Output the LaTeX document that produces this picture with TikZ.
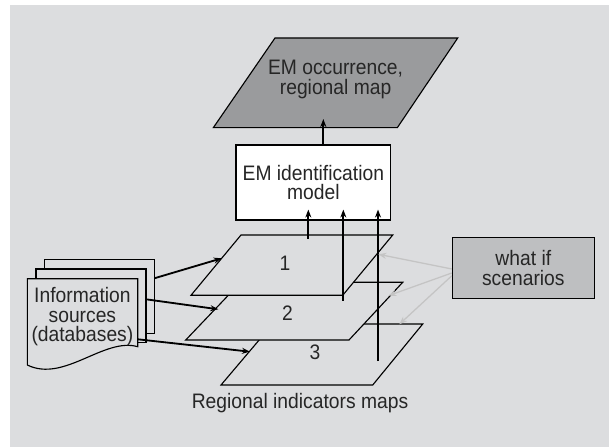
\documentclass[tikz,border=0pt]{standalone}
\usepackage{fontspec}
\setmainfont{Liberation Sans}[FakeStretch=0.92]
\usetikzlibrary{arrows.meta,positioning}
\definecolor{bggray}{HTML}{DCDDDF}
\definecolor{mapdark}{HTML}{9A9B9D}
\definecolor{boxgray}{HTML}{BEBFC1}
\definecolor{linkgray}{HTML}{C4C4C4}
\definecolor{ink}{HTML}{262626}

\begin{document}
\begin{tikzpicture}[
	txt/.style={font=\fontsize{14.9}{13.9}\selectfont, text=ink, align=center, inner sep=0pt},
	sheet/.style={draw=black, fill=bggray, line width=0.8pt},
	flow/.style={line width=1.3pt, -{Stealth[length=2mm,width=1.5mm]}},
	whatlink/.style={line width=0.9pt, draw=linkgray, -{Stealth[length=2mm,width=1.5mm]}}]
	\useasboundingbox (0,0) rectangle (15.225,11.175);
	\fill[bggray] (0.25,0) rectangle (15.225,11.05);
	% maps, back to front
	\draw[sheet] (5.525,1.55) -- (9.318,1.55) -- (10.568,3.075) -- (6.818,3.075) -- cycle;
	\draw[sheet] (4.643,2.675) -- (8.725,2.675) -- (10.068,4.118) -- (6.018,4.118) -- cycle;
	\draw[sheet] (4.775,3.793) -- (8.568,3.793) -- (9.818,5.3) -- (6.025,5.3) -- cycle;
	\node[txt] (n1) at (7.125,4.593) {1};
	\node[txt] (n2) at (7.19,3.343) {2};
	\node[txt] (n3) at (7.875,2.358) {3};
	\node[txt] (maplabel) at (7.5,1.09) {Regional indicators maps};
	% output map
	\draw[sheet, fill=mapdark] (5.333,7.983) -- (9.933,7.983) -- (11.443,10.225) -- (6.875,10.225) -- cycle;
	\node[txt] (occ) at (8.39,9.19) {EM occurrence,\\regional map};
	\coordinate (occtip) at (8.083,8.2);
	% model
	\node[txt, draw=black, fill=white, line width=0.8pt, minimum width=3.868cm, minimum height=1.875cm] (model) at (7.834,6.6125) {EM identification\\model};
	\draw[flow] (occtip |- model.north) -- (occtip);
	\coordinate (in1) at (7.708,5.208);
	\coordinate (in2) at (8.583,3.65);
	\coordinate (in3) at (9.45,2.15);
	\foreach \i in {1,2,3}
		\draw[flow] (in\i) -- ([yshift=2.75mm]in\i |- model.south);
	% information sources
	\draw[sheet] (1.108,2.835) rectangle (3.858,4.685);
	\draw[sheet] (0.9,2.6075) rectangle (3.65,4.45);
	\draw[sheet] (0.683,2.05) -- (0.683,4.2075) -- (3.443,4.2075) -- (3.443,2.5075)
		.. controls (2.6,2.75) and (1.6,1.6) .. (0.683,2.05) -- cycle;
	\node[txt] (info) at (2.06,3.26) {Information\\sources\\(databases)};
	\coordinate (s1) at (3.858,4.2175);
	\coordinate (s2) at (3.65,3.6925);
	\coordinate (s3) at (3.443,2.6925);
	\coordinate (t1) at (5.543,4.7175);
	\coordinate (t2) at (5.458,3.4425);
	\coordinate (t3) at (6.25,2.3825);
	\foreach \i in {1,2,3}
		\draw[flow] (s\i) -- (t\i);
	% scenarios
	\node[txt, draw=black, fill=boxgray, line width=0.8pt, minimum width=3.55cm, minimum height=1.525cm] (whatif) at (13.083,4.48) {what if\\scenarios};
	\coordinate (g1) at (9.458,4.8175);
	\coordinate (g2) at (9.708,3.7825);
	\coordinate (g3) at (9.983,3.0675);
	\draw[whatlink] ([yshift=-0.3mm]whatif.west) -- (g1);
	\draw[whatlink] ([yshift=-1.3mm]whatif.west) -- (g2);
	\draw[whatlink] ([yshift=-2mm]whatif.west) -- (g3);
\end{tikzpicture}
\end{document}
